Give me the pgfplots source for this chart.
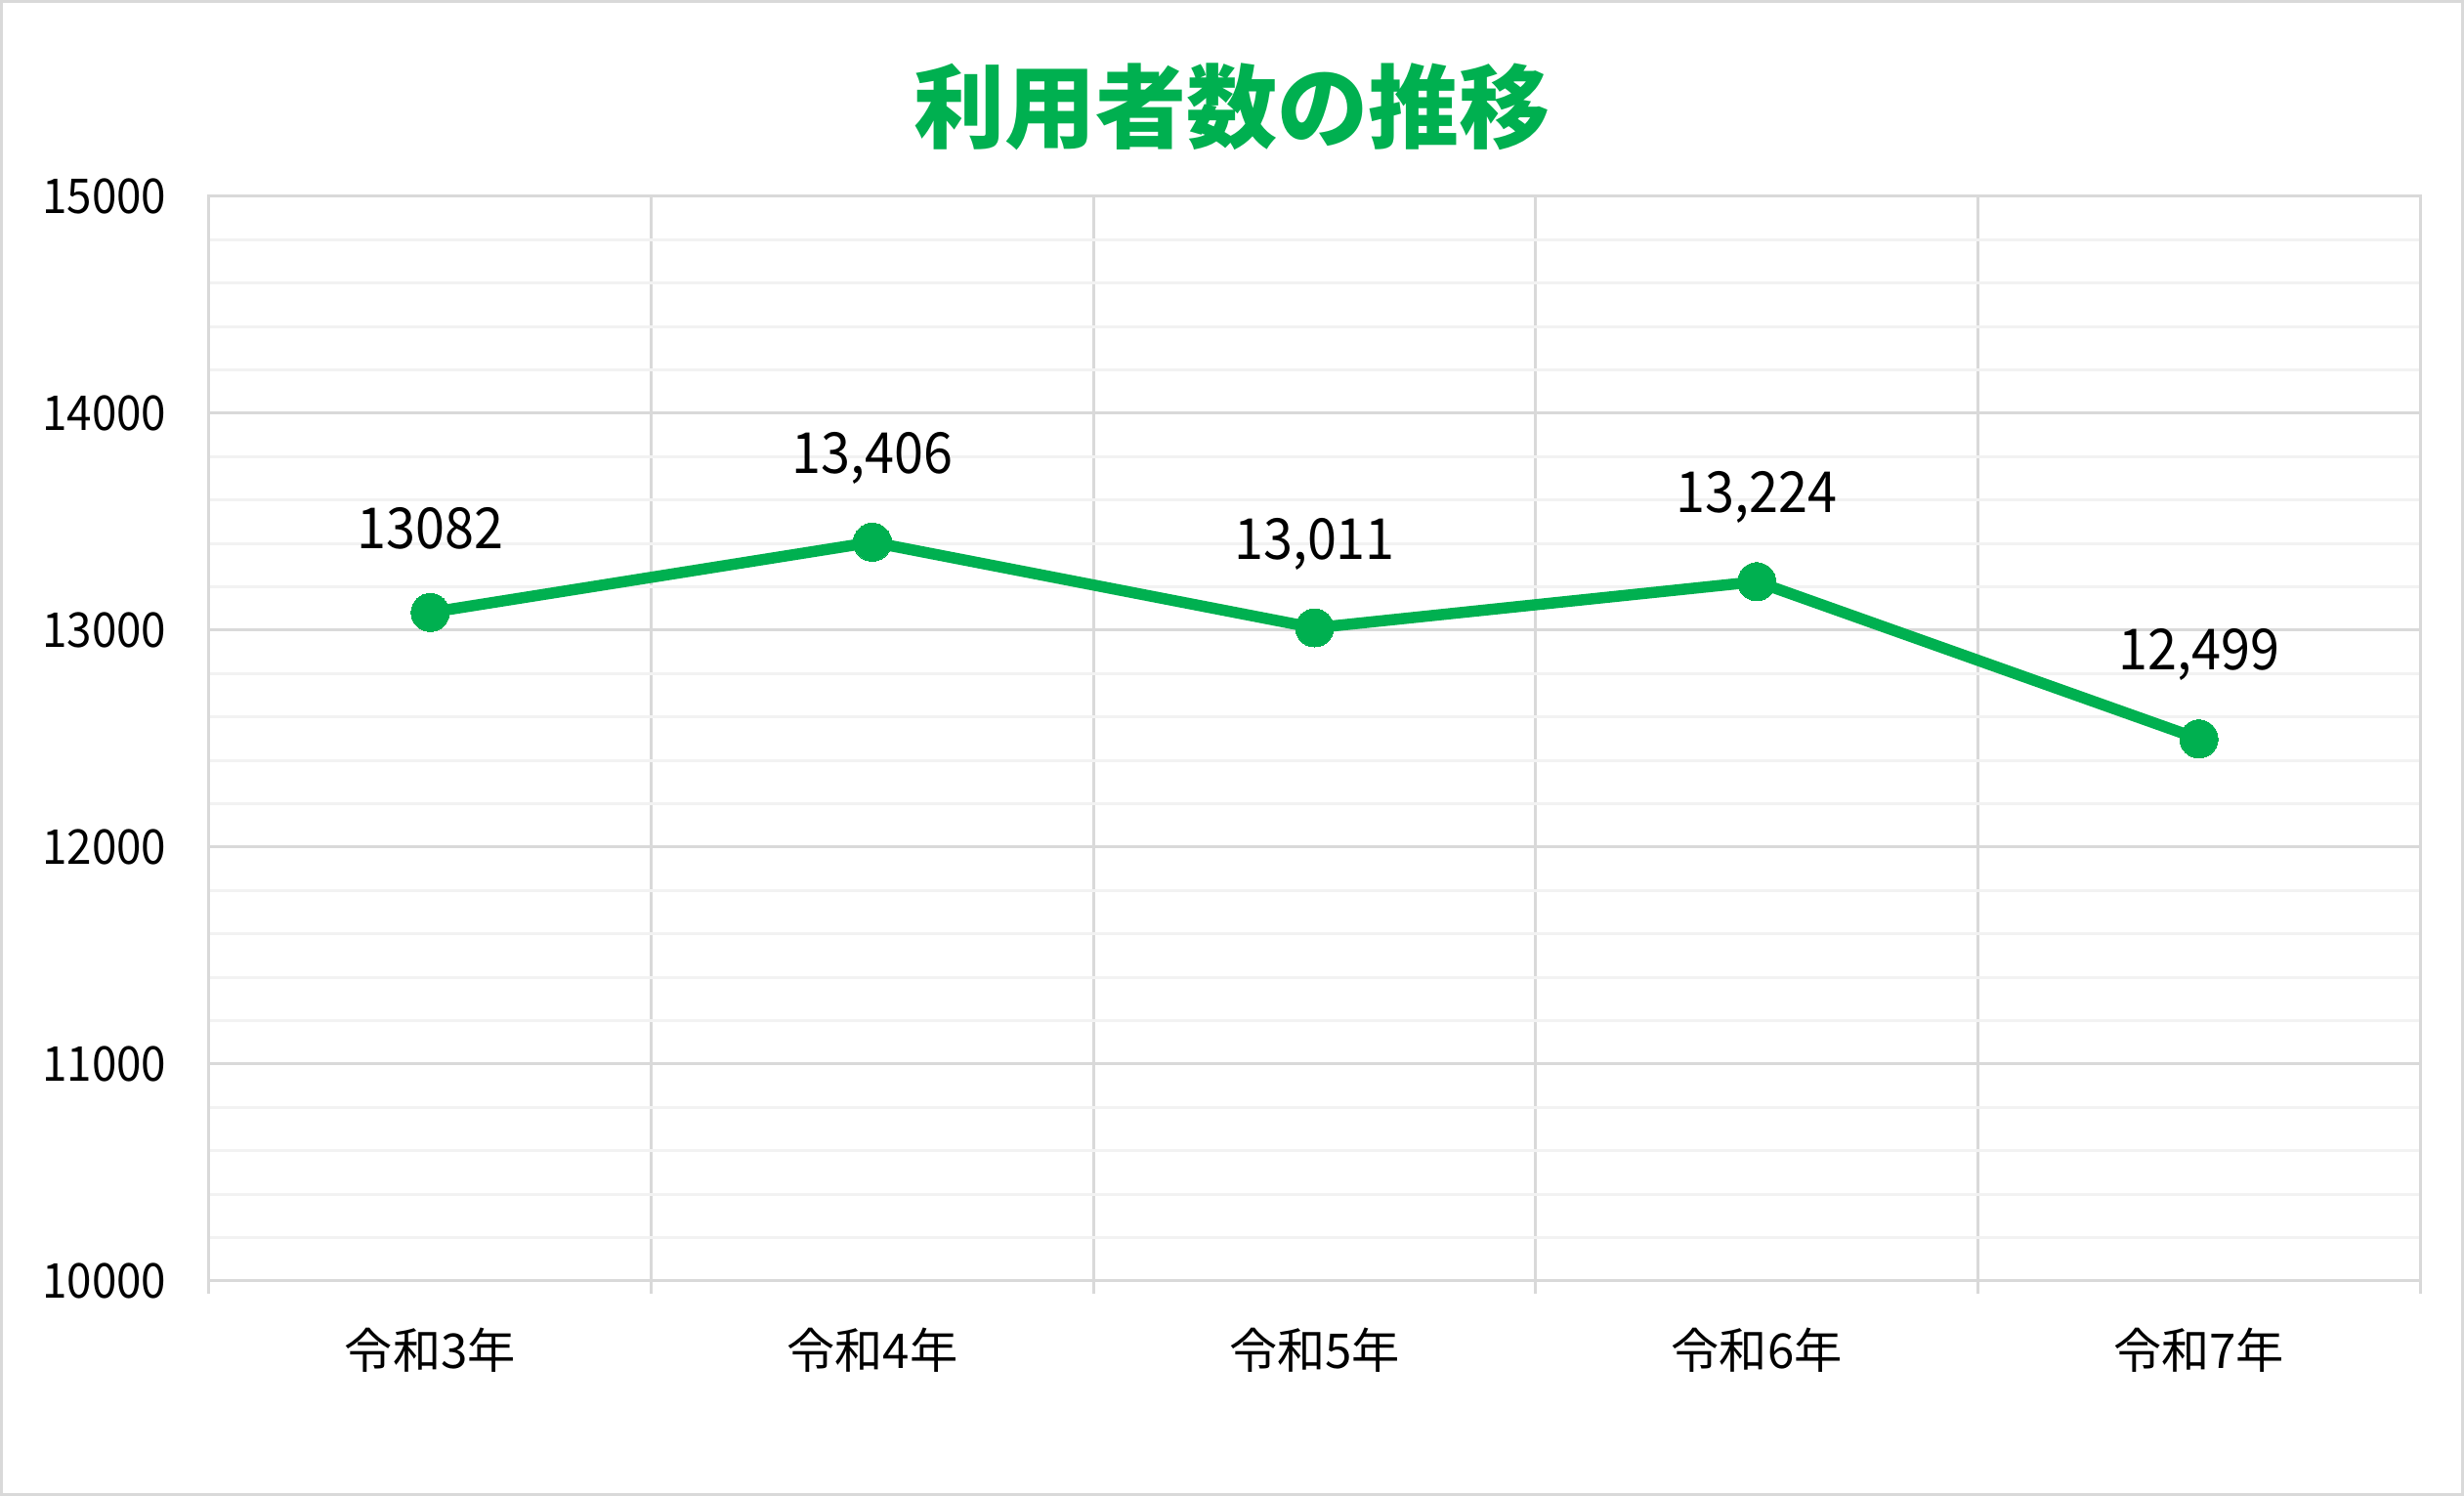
\documentclass[border=0pt]{standalone}
\usepackage{pgfplots}
\pgfplotsset{compat=1.18}
\usepackage{pgfplotstable}
\usepackage{fontspec}
\setmainfont{Noto Sans CJK JP}
\newfontfamily\narrowfont{Noto Sans CJK JP}[FakeStretch=0.93]
\definecolor{xlgreen}{HTML}{00B050}
\definecolor{majgrid}{HTML}{D9D9D9}
\definecolor{mingrid}{HTML}{F2F2F2}

\pgfplotstableread{
x y lab
0 13082 13082
1 13406 13,406
2 13011 13,011
3 13224 13,224
4 12499 12,499
}\usersdata

\begin{document}
\begin{tikzpicture}
\path[use as bounding box] (0,0) rectangle (25.22cm,15.31cm);
\fill[white] (0,0) rectangle (25.22cm,15.31cm);
\draw[majgrid, line width=0.3mm] (0.015cm,0.015cm) rectangle (25.205cm,15.295cm);
\node[font=\fontsize{26.5}{30}\selectfont\bfseries, text=xlgreen] at (12.61cm,14.22cm) {利用者数の推移};
\begin{axis}[
  at={(2.14cm,2.20cm)}, anchor=south west,
  width=22.63cm, height=11.10cm, scale only axis,
  xmin=-0.5, xmax=4.5, ymin=10000, ymax=15000,
  xtick={-0.5,0.5,1.5,2.5,3.5,4.5},
  x tick label as interval,
  xticklabels={令和3年,令和4年,令和5年,令和6年,令和7年},
  ytick={10000,11000,12000,13000,14000,15000},
  scaled y ticks=false,
  yticklabel={\pgfmathprintnumber[fixed,precision=0,1000 sep={}]{\tick}},
  minor y tick num=4,
  xmajorgrids, ymajorgrids, yminorgrids,
  major grid style={majgrid, line width=0.3mm},
  minor grid style={mingrid, line width=0.3mm},
  axis line style={majgrid, line width=0.3mm},
  tick align=outside,
  major tick length=1.3mm,
  xtick pos=lower,
  xtick style={majgrid, line width=0.3mm},
  ytick style={draw=none},
  tick label style={font=\fontsize{14}{16}\selectfont, text=black},
  /pgf/number format/1000 sep={},
  /pgf/number format/assume math mode=true,
  yticklabel style={font=\narrowfont\fontsize{14}{16}\selectfont, anchor=east, inner sep=0pt, xshift=-3.0mm},
  xticklabel style={anchor=center, yshift=-5.8mm},
  clip=false,
]
\addplot[color=xlgreen, line width=1.15mm, mark=*, mark size=1.95mm,
  mark options={fill=xlgreen, draw=xlgreen, line width=0pt},
  point meta=explicit symbolic,
  nodes near coords,
  nodes near coords style={font=\narrowfont\fontsize{16.5}{20}\selectfont, text=black, anchor=center, yshift=8.6mm},
] table[x=x, y=y, meta=lab] {\usersdata};
\end{axis}
\end{tikzpicture}
\end{document}
